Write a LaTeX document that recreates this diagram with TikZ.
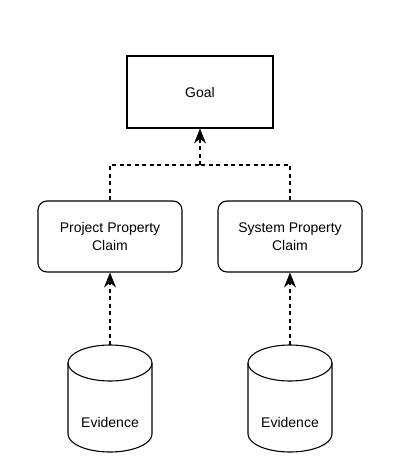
\documentclass[tikz,border=0pt]{standalone}
\usepackage{fontspec}
\setmainfont{Liberation Sans}
\usetikzlibrary{arrows.meta}
\begin{document}
\begin{tikzpicture}[x=1pt,y=-1pt,
  box/.style={draw, line width=1.1pt, minimum width=146pt, minimum height=72pt, align=center, font=\fontsize{14}{18}\selectfont},
  claimbox/.style={box, rounded corners=9pt, minimum width=144pt, minimum height=71pt},
  lbl/.style={font=\fontsize{14}{18}\selectfont},
  dep/.style={line width=1.1pt, dash pattern=on 4pt off 3.5pt},
  deparrow/.style={dep, -{Stealth[length=15pt,width=12pt,inset=5pt]}},
  cyl/.style={line width=1.1pt}]
\useasboundingbox (0,0) rectangle (402,476);
\node[box] (goal) at (200,92) {Goal};
\node[claimbox] (ppc) at (110,236.5) {Project Property\\Claim};
\node[claimbox] (spc) at (290,236.5) {System Property\\Claim};
\coordinate (j) at (200,165);
% cylinders
\foreach \cx/\nm in {110/ev1,290/ev2}{
  \draw[cyl] (\cx-42,363) -- (\cx-42,434) arc[start angle=180,end angle=360,x radius=42pt,y radius=18pt] -- (\cx+42,363);
  \draw[cyl] (\cx,363) ellipse [x radius=42pt, y radius=18pt];
}
\node[lbl] (ev1) at (110,422) {Evidence};
\node[lbl] (ev2) at (290,422) {Evidence};
\coordinate (top1) at (110,345);
\coordinate (top2) at (290,345);
% connectors
\draw[dep] (ppc.north) |- (j);
\draw[dep] (spc.north) |- (j);
\draw[deparrow] (j) -- (goal.south);
\draw[deparrow] (top1) -- (ppc.south);
\draw[deparrow] (top2) -- (spc.south);
\end{tikzpicture}
\end{document}
